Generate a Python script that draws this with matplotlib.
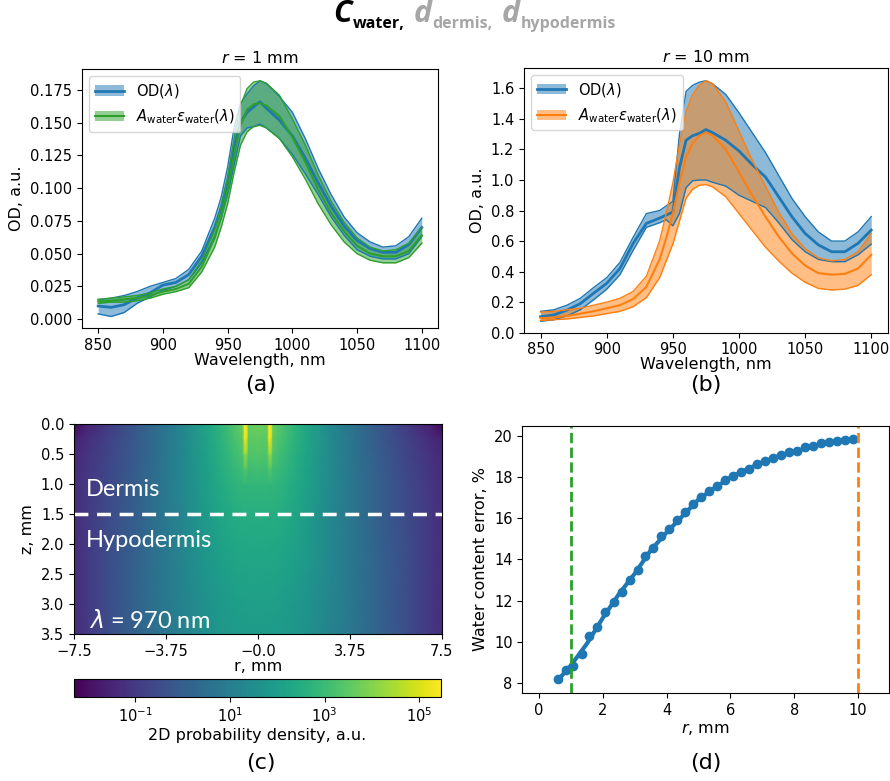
import numpy as np
import matplotlib
matplotlib.use("Agg")
import matplotlib.pyplot as plt
from matplotlib.colors import LogNorm

# wavelength grid, nm
wl = [850, 860, 870, 880, 890, 900, 910, 920, 930, 940, 945, 950, 955, 960, 965,
      970, 975, 980, 990, 1000, 1010, 1020, 1030, 1040, 1050, 1060, 1070, 1080, 1090, 1100]

# (a) r = 1 mm
od_a = [.010, .009, .011, .016, .020, .026, .028, .034, .048, .070, .085, .105, .132, .150, .158,
        .162, .166, .161, .152, .140, .123, .104, .086, .071, .060, .054, .051, .051, .057, .070]
od_a_lo = [.004, .002, .005, .012, .017, .022, .025, .030, .043, .063, .077, .095, .118, .140, .146,
           .147, .149, .146, .138, .126, .111, .095, .078, .064, .053, .048, .046, .046, .050, .063]
od_a_hi = [.015, .016, .018, .021, .025, .028, .031, .038, .052, .077, .093, .116, .146, .165, .172,
           .178, .182, .180, .170, .158, .138, .115, .095, .078, .066, .059, .055, .056, .063, .077]
wat_a = [.0135, .014, .015, .016, .018, .021, .023, .027, .040, .062, .078, .098, .125, .148, .160,
         .164, .165, .163, .155, .139, .120, .099, .081, .067, .056, .050, .048, .048, .052, .064]
wat_a_lo = [.012, .013, .013, .014, .016, .019, .021, .024, .036, .055, .070, .088, .112, .133, .143,
            .147, .148, .146, .138, .124, .107, .088, .072, .059, .050, .045, .043, .043, .047, .058]
wat_a_hi = [.015, .016, .017, .018, .020, .023, .025, .030, .045, .068, .086, .108, .138, .163, .176,
            .181, .182, .180, .171, .153, .133, .110, .090, .074, .062, .055, .052, .053, .058, .070]

# (b) r = 10 mm
od_b = [.105, .116, .148, .190, .258, .323, .420, .585, .716, .750, .770, .790, 1.08, 1.26, 1.29,
        1.305, 1.33, 1.31, 1.26, 1.19, 1.10, 1.02, .89, .76, .65, .575, .53, .53, .585, .672]
od_b_lo = [.075, .085, .110, .150, .215, .285, .380, .540, .690, .720, .740, .700, .780, .950, .995,
           1.00, 1.00, .985, .960, .900, .860, .820, .720, .610, .530, .480, .465, .465, .510, .580]
od_b_hi = [.140, .150, .180, .225, .295, .360, .460, .625, .780, .800, .830, .860, 1.30, 1.58, 1.62,
           1.64, 1.65, 1.63, 1.56, 1.44, 1.31, 1.18, 1.03, .88, .76, .66, .60, .60, .66, .76]
wat_b = [.095, .100, .110, .125, .140, .160, .180, .220, .300, .480, .620, .780, .980, 1.15, 1.24,
         1.29, 1.31, 1.29, 1.20, 1.05, .90, .76, .63, .52, .44, .39, .38, .385, .42, .51]
wat_b_lo = [.080, .085, .090, .100, .110, .125, .140, .170, .230, .360, .470, .580, .730, .880, .940,
            .965, .970, .955, .890, .780, .670, .560, .470, .390, .330, .290, .280, .285, .310, .380]
wat_b_hi = [.135, .140, .150, .160, .180, .200, .225, .270, .370, .600, .780, .980, 1.23, 1.45, 1.56,
            1.62, 1.65, 1.63, 1.51, 1.32, 1.13, .96, .79, .65, .55, .49, .47, .48, .53, .65]

# (c) log10 of 2D probability density, half profile r >= 0 (mirrored)
r_half = [0, 0.38, 0.46, 0.54, 0.62, 1, 1.5, 2, 3, 4, 5, 6, 7, 7.5]
z_rows = [0, 0.25, 0.5, 0.75, 1.0, 1.5, 2.0, 2.5, 3.0, 3.5]
logdens = [
    [3.7, 3.65, 5.5, 5.5, 3.65, 3.25, 2.75, 2.25, 1.3, 0.5, -0.2, -0.9, -1.6, -2.2],
    [3.55, 3.5, 5.2, 5.2, 3.5, 3.15, 2.7, 2.25, 1.35, 0.55, -0.15, -0.75, -1.3, -1.6],
    [3.35, 3.3, 4.2, 4.2, 3.3, 3.0, 2.6, 2.2, 1.35, 0.6, -0.1, -0.65, -1.15, -1.4],
    [3.1, 3.05, 3.35, 3.35, 3.05, 2.85, 2.5, 2.15, 1.35, 0.62, -0.05, -0.6, -1.1, -1.35],
    [2.85, 2.83, 2.83, 2.83, 2.83, 2.7, 2.42, 2.1, 1.35, 0.65, 0.0, -0.55, -1.05, -1.3],
    [2.55, 2.54, 2.54, 2.54, 2.54, 2.45, 2.25, 2.0, 1.3, 0.65, 0.0, -0.5, -1.0, -1.3],
    [2.35, 2.34, 2.34, 2.34, 2.34, 2.28, 2.1, 1.9, 1.3, 0.7, 0.05, -0.45, -1.0, -1.3],
    [2.2, 2.19, 2.19, 2.19, 2.19, 2.13, 2.0, 1.8, 1.25, 0.7, 0.1, -0.45, -1.0, -1.3],
    [2.05, 2.04, 2.04, 2.04, 2.04, 2.0, 1.88, 1.7, 1.2, 0.7, 0.1, -0.45, -1.0, -1.3],
    [1.95, 1.94, 1.94, 1.94, 1.94, 1.9, 1.8, 1.62, 1.15, 0.65, 0.1, -0.45, -1.0, -1.3],
]

# (d) water content error vs source-detector distance
r_pts = [0.61, 0.84, 1.08, 1.34, 1.58, 1.83, 2.08, 2.34, 2.59, 2.84, 3.09, 3.33, 3.58, 3.83,
         4.08, 4.34, 4.59, 4.84, 5.09, 5.34, 5.59, 5.84, 6.09, 6.34, 6.59, 6.84, 7.09, 7.34,
         7.59, 7.84, 8.09, 8.35, 8.60, 8.85, 9.10, 9.35, 9.60, 9.85]
err_pts = [8.19, 8.61, 8.84, 9.40, 10.26, 10.71, 11.42, 11.95, 12.41, 13.0, 13.49, 14.14, 14.57,
           15.15, 15.46, 15.88, 16.27, 16.69, 17.04, 17.29, 17.53, 17.82, 18.05, 18.24, 18.37,
           18.63, 18.77, 18.90, 19.06, 19.22, 19.26, 19.43, 19.50, 19.63, 19.68, 19.74, 19.79, 19.85]
r_fit = [0.6, 1, 1.5, 2, 2.5, 3, 3.5, 4, 4.5, 5, 5.5, 6, 6.5, 7, 7.5, 8, 8.5, 9, 9.5, 9.9]
err_fit = [8.15, 8.85, 9.9, 11.15, 12.3, 13.3, 14.43, 15.3, 16.1, 16.9, 17.45, 17.97, 18.35,
           18.7, 19.0, 19.2, 19.45, 19.62, 19.77, 19.87]

plt.rcParams['font.size'] = 10.5
plt.rcParams['xtick.labelsize'] = 10.5
plt.rcParams['ytick.labelsize'] = 10.5
plt.rcParams['axes.labelsize'] = 11.5
plt.rcParams['axes.titlesize'] = 11.5

fig = plt.figure(figsize=(8.9, 7.81), dpi=100)


def band(ax, mean, lo, hi, color, lw_mean=2.0):
    f = ax.fill_between(wl, lo, hi, color=color, alpha=0.5, lw=0)
    ax.plot(wl, lo, color=color, lw=1)
    ax.plot(wl, hi, color=color, lw=1)
    l, = ax.plot(wl, mean, color=color, lw=lw_mean)
    return (f, l)


leg_labels = [r'OD($\lambda$)', r'$A_{\rm water}\varepsilon_{\rm water}(\lambda)$']

# (a)
ax_a = fig.add_axes([0.0921, 0.580, 0.400, 0.3316])
h1 = band(ax_a, od_a, od_a_lo, od_a_hi, 'tab:blue')
h2 = band(ax_a, wat_a, wat_a_lo, wat_a_hi, 'tab:green', lw_mean=1.5)
ax_a.set_xlim(837.5, 1112.5)
ax_a.set_ylim(-0.0068, 0.191)
ax_a.set_yticks(np.arange(0, 0.176, 0.025))
ax_a.set_xticks([850, 900, 950, 1000, 1050, 1100])
ax_a.set_xlabel('Wavelength, nm', labelpad=0)
ax_a.set_ylabel('OD, a.u.')
ax_a.set_title(r'$r$ = 1 mm', pad=4)
ax_a.legend([h1, h2], leg_labels, loc='upper left', fontsize=10.5)

# (b)
ax_b = fig.add_axes([0.5888, 0.574, 0.4087, 0.3393])
h1 = band(ax_b, od_b, od_b_lo, od_b_hi, 'tab:blue')
h2 = band(ax_b, wat_b, wat_b_lo, wat_b_hi, 'tab:orange', lw_mean=1.5)
ax_b.set_xlim(837.5, 1112.5)
ax_b.set_ylim(0, 1.735)
ax_b.set_yticks(np.arange(0, 1.61, 0.2))
ax_b.set_xticks([850, 900, 950, 1000, 1050, 1100])
ax_b.set_xlabel('Wavelength, nm', labelpad=0)
ax_b.set_ylabel('OD, a.u.')
ax_b.set_title(r'$r$ = 10 mm', pad=4)
ax_b.legend([h1, h2], leg_labels, loc='upper left', fontsize=10.5)

# (c)
ax_c = fig.add_axes([0.0831, 0.1878, 0.4131, 0.2689])
r_half = np.array(r_half)
logdens = np.array(logdens)
r_full = np.concatenate([-r_half[::-1], r_half[1:]])
dens = 10 ** np.hstack([logdens[:, ::-1], logdens[:, 1:]])
R, Z = np.meshgrid(r_full, z_rows)
im = ax_c.pcolormesh(R, Z, dens, shading='gouraud', cmap='viridis',
                     norm=LogNorm(vmin=5e-3, vmax=2.9e5))
ax_c.set_xlim(-7.5, 7.5)
ax_c.set_ylim(3.5, 0)
ax_c.set_xticks([-7.5, -3.75, 0, 3.75, 7.5])
ax_c.set_xticklabels(['\u22127.5', '\u22123.75', '\u22120.0', '3.75', '7.5'])
ax_c.set_yticks(np.arange(0, 3.51, 0.5))
ax_c.set_xlabel('r, mm', labelpad=0)
ax_c.set_ylabel('z, mm')
ax_c.axhline(1.5, color='white', lw=2.5, ls=(0, (4, 2.5)))
ax_c.text(-7.0, 1.2, 'Dermis', color='white', fontsize=17, family='Lato')
ax_c.text(-7.0, 2.05, 'Hypodermis', color='white', fontsize=17, family='Lato')
ax_c.text(-6.9, 3.4, r'$\lambda$ = 970 nm', color='white', fontsize=17, family='Lato')

cax = fig.add_axes([0.0831, 0.108, 0.4124, 0.023])
cb = fig.colorbar(im, cax=cax, orientation='horizontal')
cb.set_ticks([1e-1, 1e1, 1e3, 1e5])
cb.ax.minorticks_off()
cb.set_label('2D probability density, a.u.', fontsize=11.5, labelpad=2)

# (d)
ax_d = fig.add_axes([0.5869, 0.1123, 0.412, 0.3427])
ax_d.plot(r_pts, err_pts, 'o', color='tab:blue', ms=6)
ax_d.plot(r_fit, err_fit, color='tab:blue', lw=3)
ax_d.axvline(1, color='tab:green', ls='--', lw=2)
ax_d.axvline(10, color='tab:orange', ls='--', lw=2)
ax_d.set_xlim(-0.52, 10.97)
ax_d.set_ylim(7.5, 20.48)
ax_d.set_xticks([0, 2, 4, 6, 8, 10])
ax_d.set_yticks([8, 10, 12, 14, 16, 18, 20])
ax_d.set_xlabel(r'$r$, mm', labelpad=2)
ax_d.set_ylabel('Water content error, %')

# panel letters
for x, y, s in [(0.293, 0.507, '(a)'), (0.793, 0.507, '(b)'),
                (0.293, 0.023, '(c)'), (0.793, 0.023, '(d)')]:
    fig.text(x, y, s, ha='center', va='center', fontsize=16)

# headline: C_water, d_dermis, d_hypodermis
fig.canvas.draw()
renderer = fig.canvas.get_renderer()
pieces = [('C', 'black', 22, 0, 0), ('water,', 'black', 11.5, -6, 0),
          ('d', '#a6a6a6', 22, 0, 8), ('dermis,', '#a6a6a6', 11.5, -6, 0),
          ('d', '#a6a6a6', 22, 0, 8), ('hypodermis', '#a6a6a6', 11.5, -6, 0)]
xpos = 333
for s, c, fs, dy, gap in pieces:
    st = 'italic' if fs > 20 else 'normal'
    t = fig.text((xpos + gap) / 890, 1 - (22 - dy) / 781, s, color=c, fontsize=fs, style=st,
                 weight='bold', family='Open Sans', va='baseline', ha='left')
    bb = t.get_window_extent(renderer)
    xpos = bb.x1 + 1

fig.savefig('out.png', dpi=100)
